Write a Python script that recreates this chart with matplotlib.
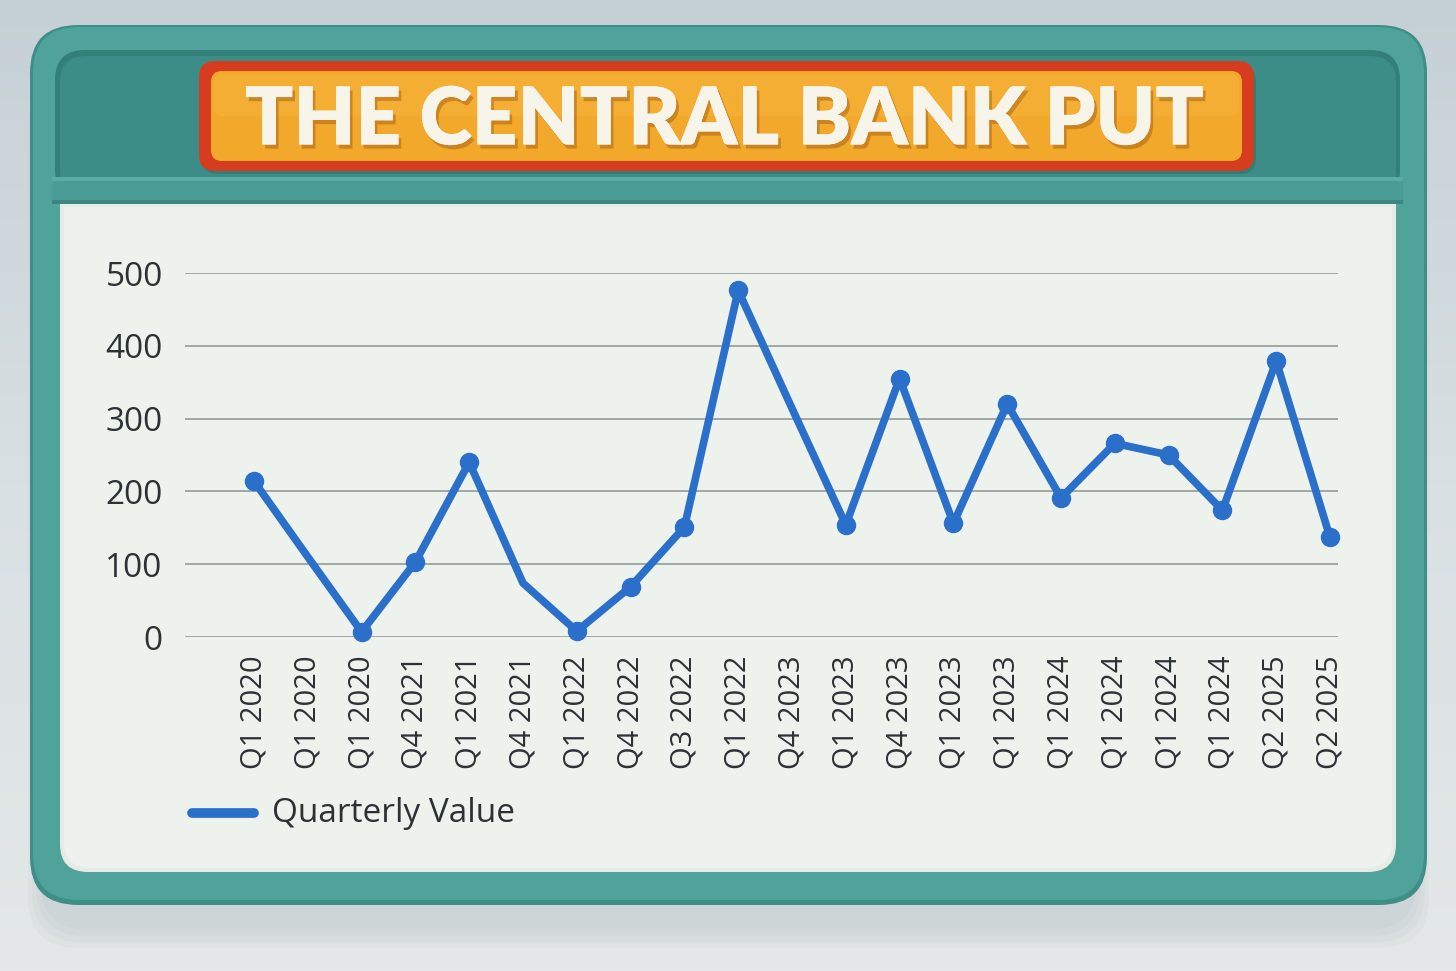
import matplotlib
matplotlib.use("Agg")
import matplotlib.pyplot as plt
import numpy as np
from matplotlib.patches import FancyBboxPatch
from matplotlib.lines import Line2D
import matplotlib.patheffects as pe
from matplotlib.colors import LinearSegmentedColormap

# ---- data ----
labels = ["Q1 2020", "Q1 2020", "Q1 2020", "Q4 2021", "Q1 2021", "Q4 2021", "Q1 2022",
          "Q4 2022", "Q3 2022", "Q1 2022", "Q4 2023", "Q1 2023", "Q4 2023", "Q1 2023",
          "Q1 2023", "Q1 2024", "Q1 2024", "Q1 2024", "Q1 2024", "Q2 2025", "Q2 2025"]
values = [214, 110, 7, 103, 240, 74, 8, 69, 151, 476, 314, 154, 355, 156,
          320, 191, 266, 250, 174, 379, 137]
marked = [0, 2, 3, 4, 6, 7, 8, 9, 11, 12, 13, 14, 15, 16, 17, 18, 19, 20]
yticks = [0, 100, 200, 300, 400, 500]
title = "THE CENTRAL BANK PUT"
series_name = "Quarterly Value"

W, H = 1456, 971
fig = plt.figure(figsize=(W / 100, H / 100), dpi=100)

# ---- decorative background in pixel coordinates ----
bg = fig.add_axes([0, 0, 1, 1])
bg.set_xlim(0, W)
bg.set_ylim(H, 0)
bg.axis("off")
grad = np.linspace(0, 1, 256).reshape(-1, 1)
cmap_bg = LinearSegmentedColormap.from_list("bg", ["#c5d0d6", "#d9e0e3", "#e4e8e9"])
bg.imshow(grad, extent=[0, W, H, 0], cmap=cmap_bg, aspect="auto", zorder=0)

def rbox(x0, y0, x1, y1, r, fc, ec="none", lw=0, z=1, alpha=1.0):
    p = FancyBboxPatch((x0 + r, y0 + r), (x1 - x0) - 2 * r, (y1 - y0) - 2 * r,
                       boxstyle=f"round,pad={r}", fc=fc, ec=ec, lw=lw, zorder=z, alpha=alpha)
    bg.add_patch(p)
    return p

# shadow under frame
for i in range(4):
    rbox(40 - i * 4, 60 + i * 6, 1417 + i * 4, 930 + i * 6, 50, "#7f8f95", z=1, alpha=0.05)
# outer teal frame
rbox(30, 25, 1427, 905, 48, "#3f8f88", z=2)
rbox(33, 27, 1424, 900, 46, "#4fa39b", z=2)
# header recess
rbox(55, 50, 1400, 200, 30, "#33807a", z=3)
rbox(60, 56, 1396, 196, 26, "#3c8d87", z=3)
# ledge
bg.add_patch(plt.Rectangle((52, 177), 1351, 27, fc="#4a9d96", ec="none", zorder=4))
bg.add_patch(plt.Rectangle((52, 177), 1351, 4, fc="#58ada5", ec="none", zorder=4))
bg.add_patch(plt.Rectangle((52, 200), 1351, 4, fc="#3b8680", ec="none", zorder=4))
# panel
rbox(60, 204, 1396, 872, 28, "#e6ebe5", z=4)
bg.add_patch(plt.Rectangle((60, 204), 1336, 40, fc="#e6ebe5", ec="none", zorder=4))
rbox(64, 207, 1392, 868, 26, "#eef2ec", z=4)
bg.add_patch(plt.Rectangle((64, 207), 1328, 40, fc="#eef2ec", ec="none", zorder=4))

# title banner
rbox(202, 66, 1256, 174, 16, "#2a5f5a", z=5, alpha=0.35)
rbox(199, 61, 1254, 171, 16, "#d63d1f", z=6)
rbox(211, 71, 1242, 161, 11, "#f2a92b", z=7)
rbox(214, 74, 1239, 116, 9, "#f6b33a", z=7, alpha=0.6)

t = bg.text(724, 121, title, ha="center", va="center", color="#f7f5ea",
            fontsize=58, fontweight="heavy", family=["Lato", "DejaVu Sans"], zorder=9,
            path_effects=[pe.withSimplePatchShadow(offset=(2, -3), shadow_rgbFace="#a85f10", alpha=0.5),
                          pe.Normal()])
fig.canvas.draw()
bb = t.get_window_extent()
t.set_fontsize(58 * 958 / bb.width)

# ---- chart axes ----
left, right = 185, 1338
top, bottom = 273, 637
x_first, x_last = 254, 1330
ax = fig.add_axes([left / W, 1 - bottom / H, (right - left) / W, (bottom - top) / H])
ax.patch.set_alpha(0)
x = np.arange(len(values))
step = (x_last - x_first) / (len(values) - 1)
ax.set_xlim(-(x_first - left) / step, len(values) - 1 + (right - x_last) / step)
ax.set_ylim(0, 500)
for s in ax.spines.values():
    s.set_visible(False)
ax.set_yticks(yticks)
ax.grid(axis="y", color="#9aa3a0", lw=1.3)
ax.set_axisbelow(True)
ax.tick_params(axis="both", length=0)
ax.tick_params(axis="y", pad=16, labelsize=24, labelcolor="#2b3236")
ax.tick_params(axis="x", pad=13, labelsize=21, labelcolor="#2b3236")
ax.set_xticks(x)
ax.set_xticklabels(labels, rotation=90, family=["Open Sans", "DejaVu Sans"])
for lab in ax.get_yticklabels():
    lab.set_family(["Open Sans", "DejaVu Sans"])

ax.plot(x, values, color="#2a6fc9", lw=5.5, solid_joinstyle="round", zorder=3, clip_on=False)
ax.plot(x[marked], np.array(values)[marked], "o", color="#2a6fc9", ms=13, zorder=4, clip_on=False)

# legend
bg.add_line(Line2D([192, 254], [813, 813], color="#2a6fc9", lw=7, solid_capstyle="round", zorder=6))
bg.text(272, 814, series_name, ha="left", va="center", fontsize=24, color="#2b3236",
        family=["Open Sans", "DejaVu Sans"], zorder=6)

fig.savefig("out.png", dpi=100)
